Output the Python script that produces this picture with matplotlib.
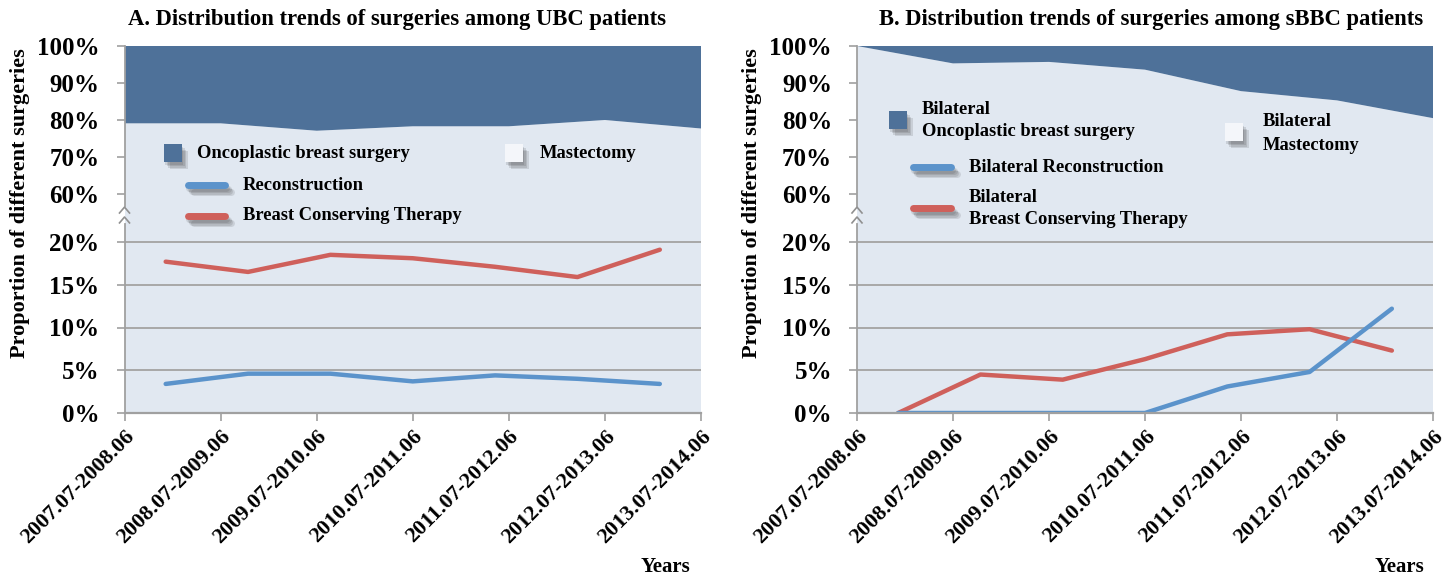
import numpy as np
import matplotlib
matplotlib.use("Agg")
import matplotlib.pyplot as plt
from matplotlib.patches import Rectangle
from matplotlib.lines import Line2D
import matplotlib.patheffects as pe

# ---------------- data ----------------
categories = ['2007.07-2008.06', '2008.07-2009.06', '2009.07-2010.06',
              '2010.07-2011.06', '2011.07-2012.06', '2012.07-2013.06',
              '2013.07-2014.06']

ubc_mastectomy = [79.1, 79.1, 77.1, 78.3, 78.3, 80.0, 77.7]
ubc_oncoplastic = [20.9, 20.9, 22.9, 21.7, 21.7, 20.0, 22.3]
ubc_reconstruction = [3.4, 4.6, 4.6, 3.7, 4.4, 4.0, 3.4]
ubc_bct = [17.7, 16.5, 18.5, 18.1, 17.1, 15.9, 19.1]

sbbc_mastectomy = [100.0, 95.3, 95.7, 93.6, 87.8, 85.3, 80.5]
sbbc_oncoplastic = [0.0, 4.7, 4.3, 6.4, 12.2, 14.7, 19.5]
sbbc_reconstruction = [0.0, 0.0, 0.0, 0.0, 3.1, 4.8, 12.2]
sbbc_bct = [0.0, 4.5, 3.9, 6.3, 9.2, 9.8, 7.3]

ytick_values = [0, 5, 10, 15, 20, 60, 70, 80, 90, 100]
grid_values = [5, 10, 15, 20]

# ---------------- style ----------------
SERIF = 'Liberation Serif'
DARK = '#4E7199'
LIGHT = '#E1E8F1'
RED = '#CF605B'
BLUE = '#5B93CB'
GRID = '#A8A8A8'
AXC = '#A0A0A0'

W, H = 1451, 579
fig = plt.figure(figsize=(W / 100, H / 100), dpi=100)
fig.patch.set_facecolor('white')

# broken axis: 0-20 and 60-100 with a gap
seg_v = [0, 20, 60, 100]
seg_p = [0, 171, 219, 367]


def fwd(v):
    return np.interp(v, seg_v, seg_p)


def inv(p):
    return np.interp(p, seg_p, seg_v)


def px_axes(x0, x1, ybot=413, ytop=46):
    return [x0 / W, (H - ybot) / H, (x1 - x0) / W, (ybot - ytop) / H]


def make_panel(rect, mast, onco, recon, bct):
    ax = fig.add_axes(rect)
    ax.set_yscale('function', functions=(fwd, inv))
    n = len(categories)
    xa = np.arange(n, dtype=float)              # area vertices on tick marks
    xl = (np.arange(n) + 0.5) * (n - 1) / n     # lines between tick marks

    ax.stackplot(xa, mast, onco, colors=[LIGHT, DARK], linewidth=0, zorder=1)
    for g in grid_values:
        ax.axhline(g, color=GRID, lw=1.4, zorder=2)
    ax.plot(xl, bct, color=RED, lw=3.2, solid_joinstyle='round',
            solid_capstyle='round', zorder=4)
    ax.plot(xl, recon, color=BLUE, lw=3.2, solid_joinstyle='round',
            solid_capstyle='round', zorder=4)
    ax.axhline(0, color=AXC, lw=1.6, zorder=5, clip_on=False)

    ax.set_xlim(0, n - 1)
    ax.set_ylim(0, 100)
    for s in ['top', 'right', 'bottom', 'left']:
        ax.spines[s].set_visible(False)

    # left axis line in two segments with break chevrons
    ax.plot([0, 0], [0, 0.515], transform=ax.transAxes, color=AXC, lw=1.3,
            clip_on=False, zorder=6)
    ax.plot([0, 0], [0.565, 1.0], transform=ax.transAxes, color=AXC, lw=1.3,
            clip_on=False, zorder=6)
    dx = 5 / 576
    for apex, base in [(0.561, 0.545), (0.534, 0.518)]:
        ax.plot([-dx, 0, dx], [base, apex, base], transform=ax.transAxes,
                color='#909090', lw=1.2, clip_on=False, zorder=6)

    ax.set_yticks(ytick_values)
    ax.set_yticklabels([f'{v}%' for v in ytick_values])
    ax.tick_params(axis='y', length=6, width=1.2, color=AXC, pad=12,
                   labelsize=18)
    ax.set_xticks(np.arange(n))
    ax.set_xticklabels(categories)
    ax.tick_params(axis='x', length=6, width=1.2, color=AXC, pad=4,
                   labelsize=15.8)
    for lab in ax.get_yticklabels():
        lab.set_fontfamily(SERIF)
        lab.set_fontweight('bold')
    for lab in ax.get_xticklabels():
        lab.set_fontfamily(SERIF)
        lab.set_fontweight('bold')
        lab.set_rotation(45)
        lab.set_ha('right')
        lab.set_va('top')
        lab.set_rotation_mode('anchor')
    return ax


axL = make_panel(px_axes(124.5, 701), ubc_mastectomy, ubc_oncoplastic,
                 ubc_reconstruction, ubc_bct)
axR = make_panel(px_axes(857, 1433), sbbc_mastectomy, sbbc_oncoplastic,
                 sbbc_reconstruction, sbbc_bct)

tfont = dict(family=SERIF, weight='bold')


def ftext(x, y, s, size, **kw):
    fig.text(x / W, 1 - y / H, s, fontsize=size, **tfont, **kw)


# titles
ftext(397, 19, 'A. Distribution trends of surgeries among UBC patients', 16.3,
      ha='center', va='center')
ftext(1151, 19, 'B. Distribution trends of surgeries among sBBC patients', 16.3,
      ha='center', va='center')
# y labels
ftext(20, 203, 'Proportion of different surgeries', 16, ha='center',
      va='center', rotation=90)
ftext(752, 203, 'Proportion of different surgeries', 16, ha='center',
      va='center', rotation=90)
# x labels
ftext(665, 567, 'Years', 15, ha='center', va='center')
ftext(1399, 567, 'Years', 15, ha='center', va='center')

# ---------------- legends (figure pixel coordinates) ----------------
shadow_patch = [pe.SimplePatchShadow(offset=(o, -o - 1), shadow_rgbFace='#2A2A2A',
                                     alpha=0.13) for o in (1, 2, 3, 4)] + [pe.Normal()]
shadow_line = [pe.SimpleLineShadow(offset=(o, -o - 1), shadow_color='#2A2A2A',
                                   alpha=0.13) for o in (1, 2, 3, 4)] + [pe.Normal()]


def square(xc, yc, color, size=18):
    r = Rectangle(((xc - size / 2) / W, 1 - (yc + size / 2) / H), size / W,
                  size / H, transform=fig.transFigure, facecolor=color,
                  edgecolor='none', zorder=10)
    r.set_path_effects(shadow_patch)
    fig.add_artist(r)


def lline(x0, x1, yc, color):
    l = Line2D([x0 / W, x1 / W], [1 - yc / H, 1 - yc / H],
               transform=fig.transFigure, color=color, lw=5,
               solid_capstyle='round', zorder=10)
    l.set_path_effects(shadow_line)
    fig.add_artist(l)


LEG = 13.3
# panel A
square(173, 153, DARK)
ftext(197, 154, 'Oncoplastic breast surgery', LEG, va='center')
square(514, 153, '#F4F6FA')
ftext(540, 154, 'Mastectomy', LEG, va='center')
lline(188, 225, 185, BLUE)
ftext(243, 185, 'Reconstruction', LEG, va='center')
lline(188, 225, 216, RED)
ftext(243, 216, 'Breast Conserving Therapy', LEG, va='center')

# panel B
square(898, 120, DARK)
ftext(922, 110, 'Bilateral', LEG, va='center')
ftext(922, 132, 'Oncoplastic breast surgery', LEG, va='center')
square(1234, 132, '#F4F6FA')
ftext(1263, 122, 'Bilateral', LEG, va='center')
ftext(1263, 145, 'Mastectomy', LEG, va='center')
lline(913, 951, 167, BLUE)
ftext(969, 167, 'Bilateral Reconstruction', LEG, va='center')
lline(913, 951, 208, RED)
ftext(969, 198, 'Bilateral', LEG, va='center')
ftext(969, 220, 'Breast Conserving Therapy', LEG, va='center')

fig.savefig('out.png', dpi=100, facecolor='white')
